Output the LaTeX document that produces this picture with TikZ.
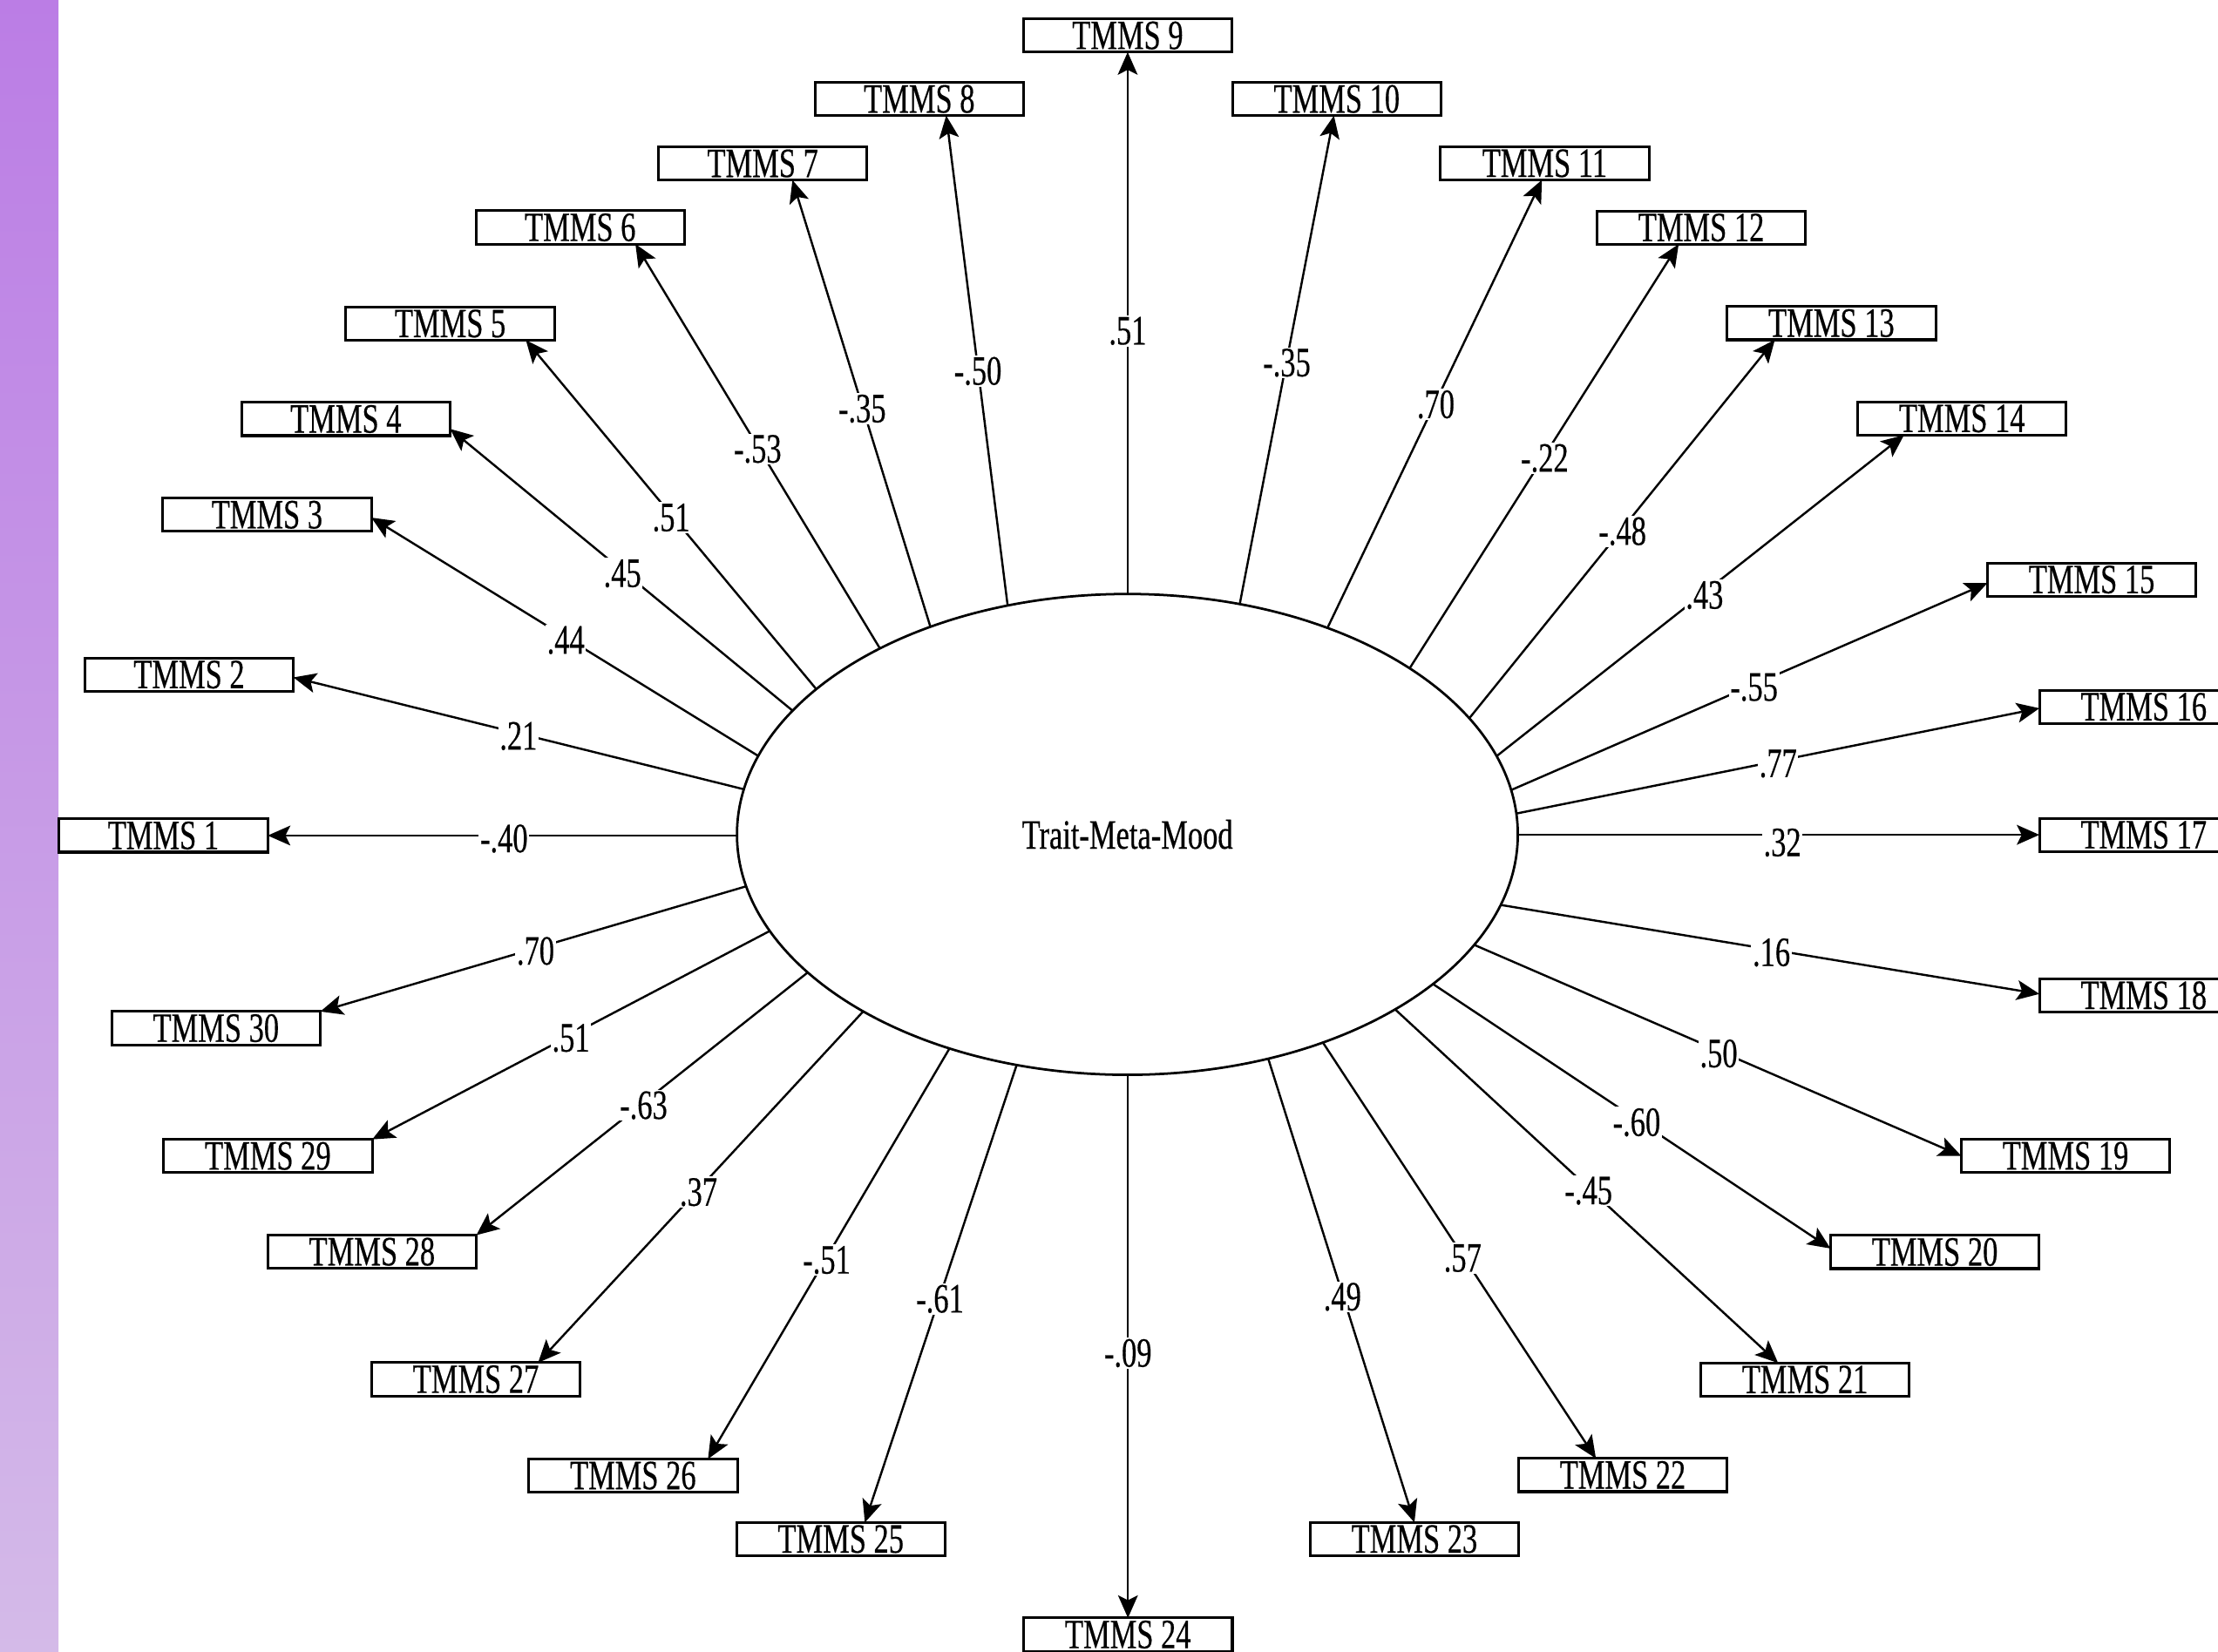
\documentclass[tikz,border=0pt]{standalone}
\usepackage{fontspec}
\newfontfamily\diagfont[FakeStretch=0.72,FakeBold=0.35]{Liberation Serif}
\usetikzlibrary{arrows.meta,calc,shapes.geometric}
\pgfdeclarelayer{background}
\pgfsetlayers{background,main}
\definecolor{stripTop}{RGB}{187,125,229}
\definecolor{stripBot}{RGB}{212,186,232}
\tikzset{
  txt/.style={font=\diagfont\fontsize{29.5}{31}\selectfont},
  item/.style={txt, draw, line width=1.9pt, fill=white, rectangle,
    minimum width=147.5pt, minimum height=23.5pt, inner sep=0pt, outer sep=0pt},
  latent/.style={txt, ellipse, draw, line width=1.7pt, fill=white,
    minimum width=552pt, minimum height=340pt, inner sep=0pt, outer sep=0pt},
  coef/.style={txt, fill=white, inner sep=1pt},
  link/.style={line width=1.5pt, -{Stealth[length=16pt,width=14pt,inset=3.5pt]}}
}
\begin{document}
\begin{tikzpicture}[x=1pt,y=-1pt]
\useasboundingbox (0,0) rectangle (1568,1168);
\shade[top color=stripTop,bottom color=stripBot] (0,0) rectangle (41.3,1168);

\node[latent] (E) at (797,590) {Trait-Meta-Mood};

\foreach \i/\x/\y in {1/115.5/590.8, 2/133.7/477, 3/188.8/364, 4/244.5/296.3,
  5/318.3/228.8, 6/410.2/160.8, 7/539.2/115.6, 8/649.9/70, 9/797.2/25.1,
  10/945/70, 11/1092/115.5, 12/1202.7/160.9, 13/1294.7/228.5, 14/1387/295.9,
  15/1478.7/409.8, 16/1515.5/499.8, 17/1515.5/590.3, 18/1515.5/703.8,
  19/1460.2/817.3, 20/1367.8/885.3, 21/1276/975.5, 22/1147.2/1043,
  23/999.9/1088.3, 24/797.4/1155.8, 25/594.4/1088.3, 26/447.5/1043.4,
  27/336.4/975.3, 28/263/885.1, 29/189.4/817.4, 30/152.7/727}
  {\node[item] (b\i) at (\x,\y) {TMMS \i};}

% axis-aligned connectors
\begin{pgfonlayer}{background}
\draw[link] (E.west |- b1.east) -- (b1.east);
\draw[link] (E.north -| b9.south) -- (b9.south);
\draw[link] (E.east |- b17.west) -- (b17.west);
\draw[link] (E.south -| b24.north) -- (b24.north);
\end{pgfonlayer}
\node[coef] (l1) at (356.3,593) {-.40};
\node[coef] (l9) at (797.2,234) {.51};
\node[coef] (l17) at (1260,595.8) {.32};
\node[coef] (l24) at (797.4,956.8) {-.09};

% slanted connectors
\foreach \i/\anc/\dx/\dy/\lx/\ly/\v in {
  2/east/0/2/366.5/520.5/.21,
  3/east/0/2/400/452.7/.44,
  4/east/0/7/440/405.5/.45,
  5/south/53.5/0/474.5/366/.51,
  6/south/39/0/535.6/317.5/-.53,
  7/south/21/0/609.5/289/-.35,
  8/south/19/0/691.3/262.4/-.50,
  10/south/-2/0/909.7/256.5/-.35,
  11/south/-2/0/1015/286/.70,
  12/south/-16/0/1092/324/-.22,
  13/south/-40/0/1147/375.7/-.48,
  14/south/-41/0/1205/420.8/.43,
  15/west/0/2.5/1240/486/-.55,
  16/west/0/1/1257/540/.77,
  18/west/0/-1/1252.3/673.5/.16,
  19/west/0/0/1215/745/.50,
  20/west/0/-2.5/1157/793.6/-.60,
  21/north/-19/0/1123/842/-.45,
  22/north/-19/0/1034/889.7/.57,
  23/north/0/0/949/917/.49,
  25/north/17/0/664.5/918.5/-.61,
  26/north/53/0/584.4/891/-.51,
  27/north/44/0/493.8/843/.37,
  28/north east/0/0/455/781.6/-.63,
  29/north east/0/0/403.6/734/.51,
  30/north east/0/0/378.6/672.5/.70}
{
  \coordinate (t\i) at ($(b\i.\anc)+(\dx,\dy)$);
  \coordinate (m\i) at ($(\lx,\ly)+(0,-2)$);
  \coordinate (s\i) at ($(t\i)!2.2!(m\i)$);
  \begin{pgfonlayer}{background}
    \draw[link] (s\i) -- (t\i);
  \end{pgfonlayer}
  \node[coef] (l\i) at (\lx,\ly) {\v};
}
\end{tikzpicture}
\end{document}
